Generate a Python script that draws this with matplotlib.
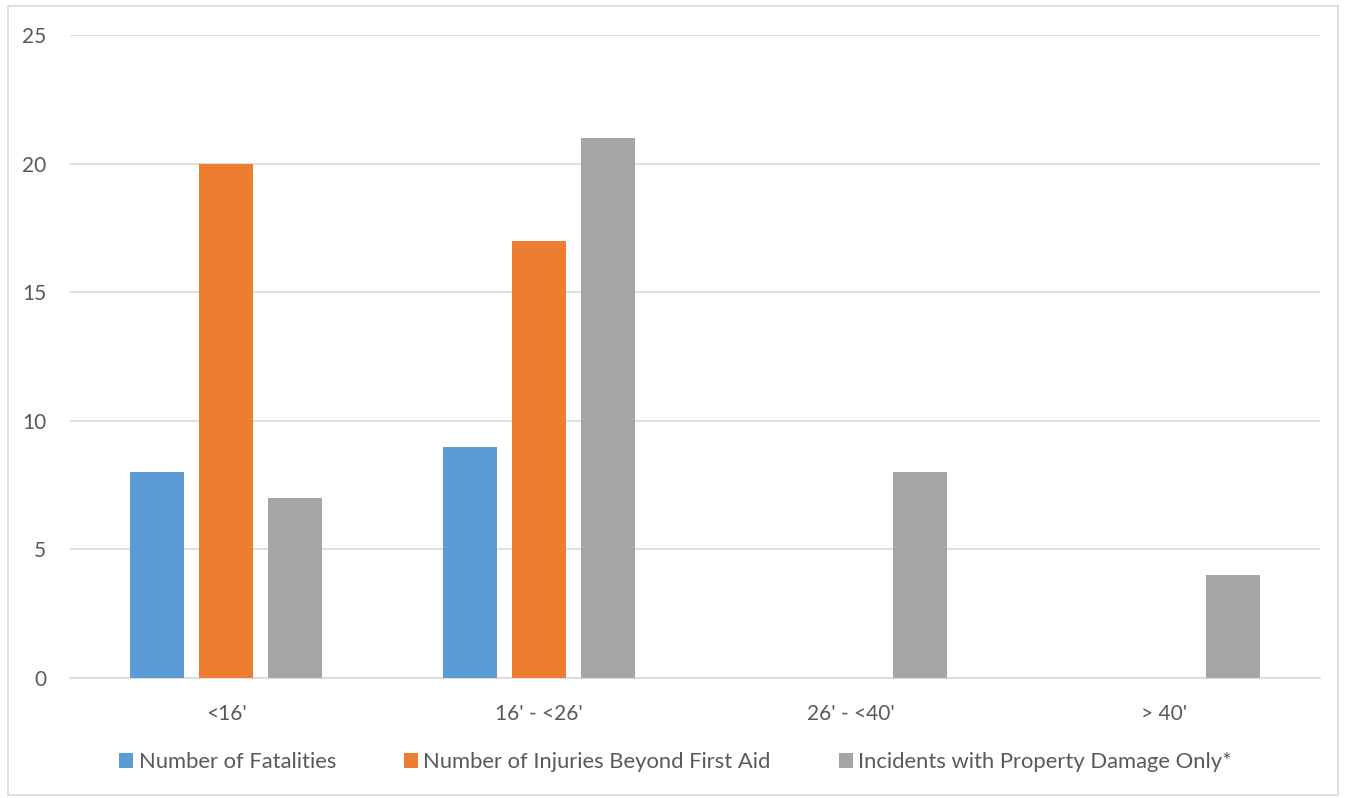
import matplotlib
matplotlib.use("Agg")
import matplotlib.pyplot as plt
import numpy as np
from matplotlib.patches import Rectangle

categories = ["<16'", "16' - <26'", "26' - <40'", "> 40'"]
fatalities = [8, 9, 0, 0]
injuries = [20, 17, 0, 0]
property_damage = [7, 21, 8, 4]
series_names = ["Number of Fatalities",
                "Number of Injuries Beyond First Aid",
                "Incidents with Property Damage Only*"]
colors = ["#5B9BD5", "#ED7D31", "#A5A5A5"]

plt.rcParams["font.family"] = ["Lato", "DejaVu Sans"]
TXT = "#595959"

fig = plt.figure(figsize=(13.51, 7.98), dpi=100)
ax = fig.add_axes([70 / 1351, 1 - 678 / 798, 1250 / 1351, 643 / 798])

x = np.arange(len(categories))
w = 0.173
pitch = 0.221
for i, (vals, name, c) in enumerate(zip([fatalities, injuries, property_damage],
                                        series_names, colors)):
    ax.bar(x + (i - 1) * pitch, vals, width=w, color=c, label=name, zorder=3)

ax.set_xlim(-0.5, 3.5)
ax.set_ylim(0, 25)
ax.set_yticks(range(0, 26, 5))
ax.set_xticks(x)
ax.set_xticklabels(categories)
ax.yaxis.grid(True, color="#D9D9D9", linewidth=1.2, zorder=0)
for s in ["top", "right", "left"]:
    ax.spines[s].set_visible(False)
ax.spines["bottom"].set_color("#D9D9D9")
ax.spines["bottom"].set_linewidth(1.2)
ax.tick_params(axis="both", length=0, labelsize=15, colors=TXT)
ax.tick_params(axis="x", pad=19)
ax.tick_params(axis="y", pad=17)

leg = fig.legend(loc="center", bbox_to_anchor=(0.5, 1 - 762 / 798), ncol=3,
                 frameon=False, fontsize=15.8, handlelength=0.64, handleheight=0.64,
                 handletextpad=0.25, columnspacing=3.1)
for t in leg.get_texts():
    t.set_color(TXT)

fig.patches.append(Rectangle((8 / 1351, 3 / 798), 1330 / 1351, 789 / 798,
                             transform=fig.transFigure, fill=False,
                             edgecolor="#D9D9D9", linewidth=1.2))

fig.savefig("out.png", dpi=100)
